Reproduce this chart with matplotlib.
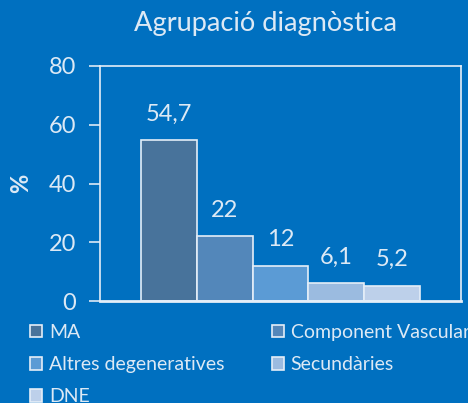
import matplotlib.pyplot as plt
from matplotlib.patches import Patch

plt.rcParams['font.family'] = ['Lato', 'DejaVu Sans']

series = ['MA', 'Component Vascular', 'Altres degeneratives', 'Secundàries', 'DNE']
values = [54.7, 22, 12, 6.1, 5.2]
value_labels = ['54,7', '22', '12', '6,1', '5,2']
colors = ['#48739B', '#5387BA', '#5B9BD5', '#9BBBE0', '#BDD0EA']
yticks = [0, 20, 40, 60, 80]

bg = '#0070C0'
txt = '#DCE9F5'
edge = '#E4EEF8'

fig = plt.figure(figsize=(4.68, 4.03), dpi=100, facecolor=bg)
ax = fig.add_axes([100 / 468, 1 - 301 / 403, 361 / 468, 235 / 403])
ax.set_facecolor(bg)

for i, v in enumerate(values):
    ax.bar(i, v, width=1.0, color=colors[i], edgecolor=edge, linewidth=1.2, label=series[i])
    ax.text(i, v + 5.3, value_labels[i], ha='center', va='bottom', color=txt, fontsize=17)

ax.set_xlim(-0.5 - 0.737, 4.5 + 0.737)
ax.set_ylim(0, 80)
ax.set_yticks(yticks)
ax.set_xticks([])
ax.tick_params(axis='y', colors=txt, labelsize=17, length=8, width=1.2, pad=9)
for s in ax.spines.values():
    s.set_color(edge)
    s.set_linewidth(1.2)
ax.spines['bottom'].set_linewidth(2)

ax.set_ylabel('%', color=txt, fontsize=17, fontweight='bold', labelpad=12)
fig.text(265 / 468, 1 - 24 / 403, 'Agrupació diagnòstica', color=txt, fontsize=19.6,
         ha='center', va='center')

# matplotlib fills legend columns first; reorder so it reads row by row
order = [0, 2, 4, 1, 3]
handles = [Patch(facecolor=colors[i], edgecolor=edge, linewidth=1.2) for i in order]
labels = [series[i] for i in order]
fig.legend(handles, labels, loc='upper left', bbox_to_anchor=(0.048, 0.2155), ncol=2,
           frameon=False, fontsize=14, labelcolor=txt, handlelength=0.62, handleheight=0.62,
           handletextpad=0.35, columnspacing=2.42, labelspacing=0.78, borderaxespad=0)

plt.savefig('out.png', dpi=100, facecolor=bg)
plt.close()
